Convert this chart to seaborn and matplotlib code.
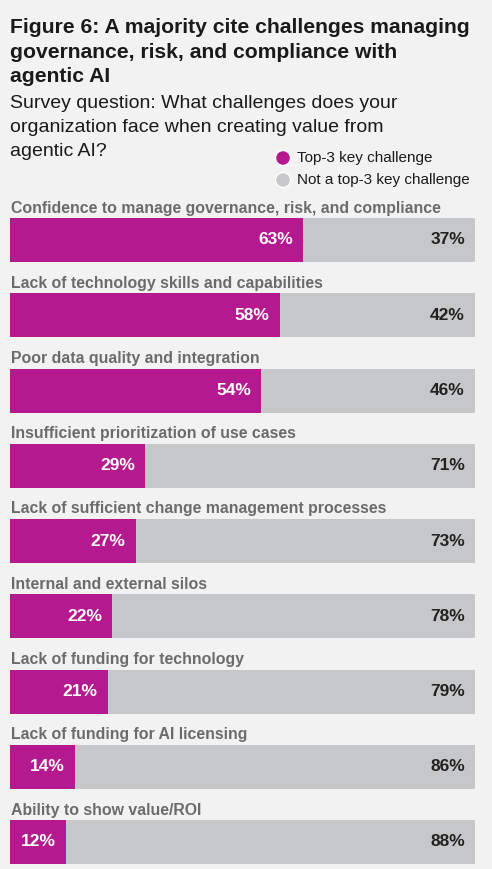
import pandas as pd
import seaborn as sns
import matplotlib.pyplot as plt
from matplotlib.patches import Ellipse

# Data
challenges = [
    "Confidence to manage governance, risk, and compliance",
    "Lack of technology skills and capabilities",
    "Poor data quality and integration",
    "Insufficient prioritization of use cases",
    "Lack of sufficient change management processes",
    "Internal and external silos",
    "Lack of funding for technology",
    "Lack of funding for AI licensing",
    "Ability to show value/ROI",
]
top3 = [63, 58, 54, 29, 27, 22, 21, 14, 12]
not_top3 = [37, 42, 46, 71, 73, 78, 79, 86, 88]

magenta = "#B5198F"
grey = "#C6C7C9"
bg = "#F2F2F2"

sns.set_theme(style="white")
plt.rcParams['font.family'] = ['Liberation Sans', 'DejaVu Sans']

df = pd.DataFrame({"challenge": challenges, "top3": top3, "not_top3": not_top3})
df["total"] = df["top3"] + df["not_top3"]

fig = plt.figure(figsize=(4.92, 8.69), dpi=100, facecolor=bg)
W, H = 492, 869

# axes placement in pixels: bar 0 centre at 240px, 75.25px per row
unit = 75.25
top_px = 240 - 0.5 * unit
ax = fig.add_axes([10 / W, 0, 465 / W, 1 - top_px / H])
ax.set_facecolor(bg)

bw = 44 / unit
sns.barplot(data=df, x="total", y="challenge", color=grey, width=bw, ax=ax,
            orient="h", saturation=1)
sns.barplot(data=df, x="top3", y="challenge", color=magenta, width=bw, ax=ax,
            orient="h", saturation=1)
for p in ax.patches:
    p.set_edgecolor("none")
    p.set_linewidth(0)

ylo = 8 + (H - 842) / unit
ax.set_ylim(ylo, -0.5)
ax.set_xlim(0, 100)
ax.set_xlabel("")
ax.set_ylabel("")
ax.set_xticks([])
ax.set_yticks([])
sns.despine(ax=ax, left=True, bottom=True, top=True, right=True)

px = 100 / 465  # data units per pixel in x
for i, row in df.iterrows():
    ax.text(0.3, i - bw / 2 - 5.5 / unit, row["challenge"], ha="left", va="baseline",
            fontsize=11.4, fontweight="bold", color="#6B6B6B")
    ax.text(row["top3"] - 10 * px, i, f"{row['top3']}%", ha="right", va="center",
            fontsize=12.5, fontweight="bold", color="white")
    ax.text(100 - 10 * px, i, f"{row['not_top3']}%", ha="right", va="center",
            fontsize=12.5, fontweight="bold", color="#222222")

# Title and subtitle
title = ["Figure 6: A majority cite challenges managing",
         "governance, risk, and compliance with",
         "agentic AI"]
for k, line in enumerate(title):
    fig.text(10 / W, 1 - (33 + 24.5 * k) / H, line, ha="left", va="baseline",
             fontsize=15.2, fontweight="bold", color="#1A1A1A")
sub = ["Survey question: What challenges does your",
       "organization face when creating value from",
       "agentic AI?"]
for k, line in enumerate(sub):
    fig.text(10 / W, 1 - (108 + 24 * k) / H, line, ha="left", va="baseline",
             fontsize=14, color="#1A1A1A")

# Legend
leg = [("Top-3 key challenge", magenta), ("Not a top-3 key challenge", grey)]
for k, (lab, col) in enumerate(leg):
    y = 1 - (158 + 22 * k) / H
    fig.text(297 / W, y, lab, ha="left", va="center", fontsize=11, color="#1A1A1A")
    fig.add_artist(Ellipse((283 / W, y), 15 / W, 15 / H, transform=fig.transFigure,
                           facecolor=col, edgecolor="white", linewidth=1))

fig.savefig("out.png", dpi=100, facecolor=bg)
